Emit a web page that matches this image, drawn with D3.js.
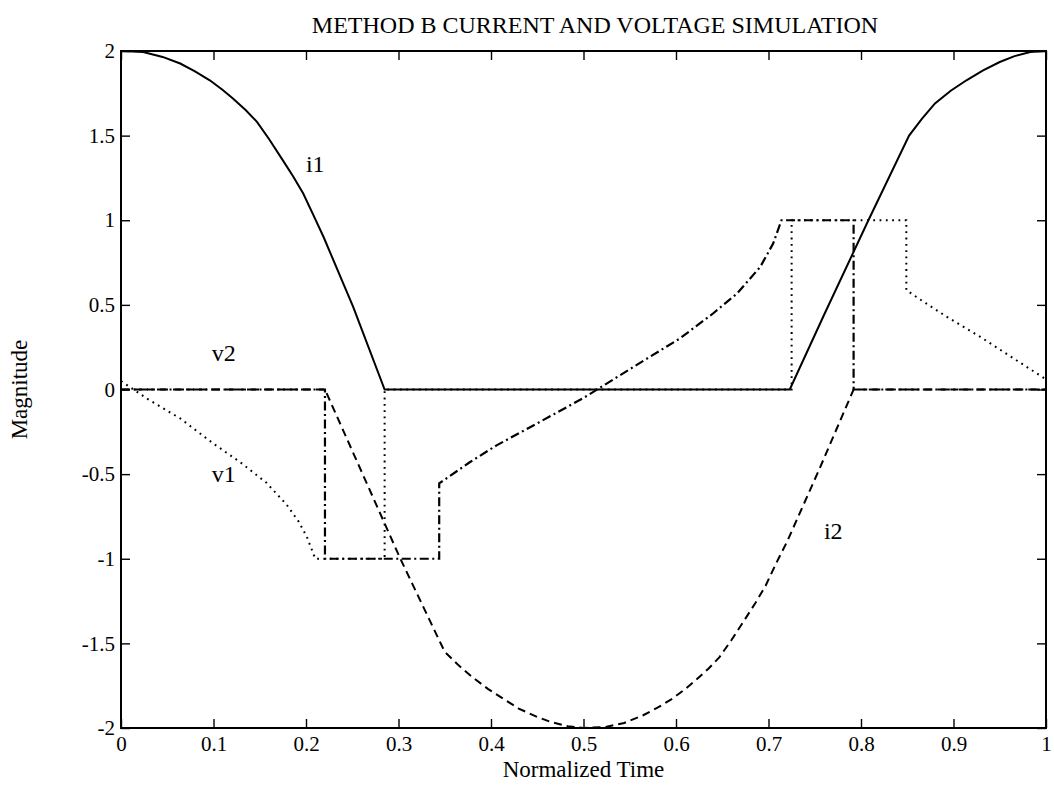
<!DOCTYPE html>
<html>
<head>
<meta charset="utf-8">
<script src="https://cdn.jsdelivr.net/npm/d3@7"></script>
<style>
  html, body { margin: 0; padding: 0; background: #fff; }
  svg { display: block; }
  text { font-family: "Liberation Serif", "DejaVu Serif", serif; fill: #000; }
</style>
</head>
<body>
<svg id="chart" width="1054" height="795"></svg>
<script>
// ---- data ----
const xTicks = [0, 0.1, 0.2, 0.3, 0.4, 0.5, 0.6, 0.7, 0.8, 0.9, 1];
const yTicks = [-2, -1.5, -1, -0.5, 0, 0.5, 1, 1.5, 2];

const i1X = [0, 0.024, 0.045, 0.064, 0.08, 0.096, 0.11, 0.121, 0.135, 0.147, 0.16, 0.175, 0.186, 0.197, 0.208, 0.219, 0.251, 0.285, 0.723, 0.76, 0.808, 0.852, 0.866, 0.88, 0.897, 0.914, 0.932, 0.95, 0.966, 0.983, 1.0];
const i1Y = [2, 1.994, 1.965, 1.926, 1.88, 1.827, 1.77, 1.719, 1.65, 1.581, 1.48, 1.354, 1.26, 1.158, 1.03, 0.901, 0.488, 0, 0, 0.44, 1.0, 1.5, 1.6, 1.69, 1.765, 1.827, 1.885, 1.935, 1.97, 1.994, 2];

const i2X = [0, 0.2205, 0.302, 0.35, 0.365, 0.38, 0.397, 0.414, 0.43, 0.45, 0.465, 0.483, 0.5, 0.524, 0.544, 0.564, 0.58, 0.596, 0.61, 0.621, 0.635, 0.647, 0.66, 0.675, 0.686, 0.697, 0.708, 0.72, 0.755, 0.792, 1.0];
const i2Y = [0, 0, -1.0, -1.55, -1.63, -1.70, -1.77, -1.83, -1.885, -1.935, -1.965, -1.99, -2.0, -1.994, -1.97, -1.926, -1.88, -1.827, -1.77, -1.719, -1.65, -1.581, -1.48, -1.354, -1.26, -1.158, -1.03, -0.90, -0.47, 0, 0];

const v1X = [0, 0.03, 0.064, 0.0998, 0.129, 0.157, 0.179, 0.192, 0.201, 0.21, 0.285, 0.285, 0.725, 0.725, 0.849, 0.849, 0.87, 0.893, 0.929, 0.968, 1.0];
const v1Y = [0.05, -0.06, -0.171, -0.319, -0.43, -0.55, -0.68, -0.78, -0.871, -1.0, -1.0, 0, 0, 1, 1, 0.587, 0.51, 0.429, 0.311, 0.173, 0.06];

const v2X = [0, 0.2205, 0.2205, 0.344, 0.344, 0.377, 0.406, 0.45, 0.5, 0.55, 0.604, 0.64, 0.666, 0.691, 0.705, 0.714, 0.792, 0.792, 1.0];
const v2Y = [0, 0, -1, -1, -0.555, -0.43, -0.33, -0.2, -0.05, 0.12, 0.301, 0.449, 0.567, 0.724, 0.862, 1.0, 1.0, 0, 0];

const curveLabels = ["i1", "i2", "v1", "v2"];
const labelX = [0.21, 0.77, 0.111, 0.111];
const labelY = [1.315, -0.85, -0.516, 0.2];

const titleText = "METHOD B CURRENT AND VOLTAGE SIMULATION";
const xTitle = "Normalized Time";
const yTitle = "Magnitude";

// ---- layout ----
const W = 1054, H = 795;
const m = { left: 121, right: 8, top: 51, bottom: 67 };
const pw = W - m.left - m.right, ph = H - m.top - m.bottom;

const svg = d3.select("#chart");
const g = svg.append("g").attr("transform", `translate(${m.left},${m.top})`);

const x = d3.scaleLinear().domain([0, 1]).range([0, pw]);
const y = d3.scaleLinear().domain([-2, 2]).range([ph, 0]);

const fmt = d => String(d);
const tick = 9;

const axB = g.append("g").attr("transform", `translate(0,${ph})`)
  .call(d3.axisBottom(x).tickValues(xTicks).tickFormat(fmt).tickSize(-tick).tickSizeOuter(0).tickPadding(5));
const axT = g.append("g")
  .call(d3.axisTop(x).tickValues(xTicks).tickFormat("").tickSize(-tick).tickSizeOuter(0));
const axL = g.append("g")
  .call(d3.axisLeft(y).tickValues(yTicks).tickFormat(fmt).tickSize(-tick).tickSizeOuter(0).tickPadding(6));
const axR = g.append("g").attr("transform", `translate(${pw},0)`)
  .call(d3.axisRight(y).tickValues(yTicks).tickFormat("").tickSize(-tick).tickSizeOuter(0));

[axB, axT, axL, axR].forEach(a => {
  a.select(".domain").remove();
  a.selectAll("line").attr("stroke", "#000").attr("stroke-width", 1.4);
  a.selectAll("text").style("font-family", '"Liberation Serif", serif').style("font-size", "21px").attr("fill", "#000");
});
axB.selectAll("text").attr("dy", "0.85em");

g.append("rect").attr("x", 0).attr("y", 0).attr("width", pw).attr("height", ph)
  .attr("fill", "none").attr("stroke", "#000").attr("stroke-width", 2);

const line = d3.line().x(d => x(d[0])).y(d => y(d[1]));
const series = [
  { xs: i1X, ys: i1Y, dash: null, w: 2 },
  { xs: i2X, ys: i2Y, dash: "8,5", w: 2 },
  { xs: v1X, ys: v1Y, dash: "1.8,4.5", w: 2 },
  { xs: v2X, ys: v2Y, dash: "9,3.5,2,3.5", w: 2.2 }
];
series.forEach(s => {
  g.append("path")
    .attr("d", line(s.xs.map((v, i) => [v, s.ys[i]])))
    .attr("fill", "none").attr("stroke", "#000")
    .attr("stroke-width", s.w)
    .attr("stroke-dasharray", s.dash)
    .attr("stroke-linejoin", "miter");
});

curveLabels.forEach((t, i) => {
  g.append("text").attr("x", x(labelX[i])).attr("y", y(labelY[i]))
    .attr("text-anchor", "middle").attr("dominant-baseline", "middle")
    .style("font-size", "24px").text(t);
});

svg.append("text").attr("x", 595).attr("y", 33)
  .attr("text-anchor", "middle").style("font-size", "24px").text(titleText);
svg.append("text").attr("x", m.left + pw / 2).attr("y", 777)
  .attr("text-anchor", "middle").style("font-size", "23px").text(xTitle);
svg.append("text").attr("transform", `translate(22,${m.top + ph / 2}) rotate(-90)`)
  .attr("text-anchor", "middle").attr("dominant-baseline", "middle")
  .style("font-size", "23px").text(yTitle);
</script>
</body>
</html>
